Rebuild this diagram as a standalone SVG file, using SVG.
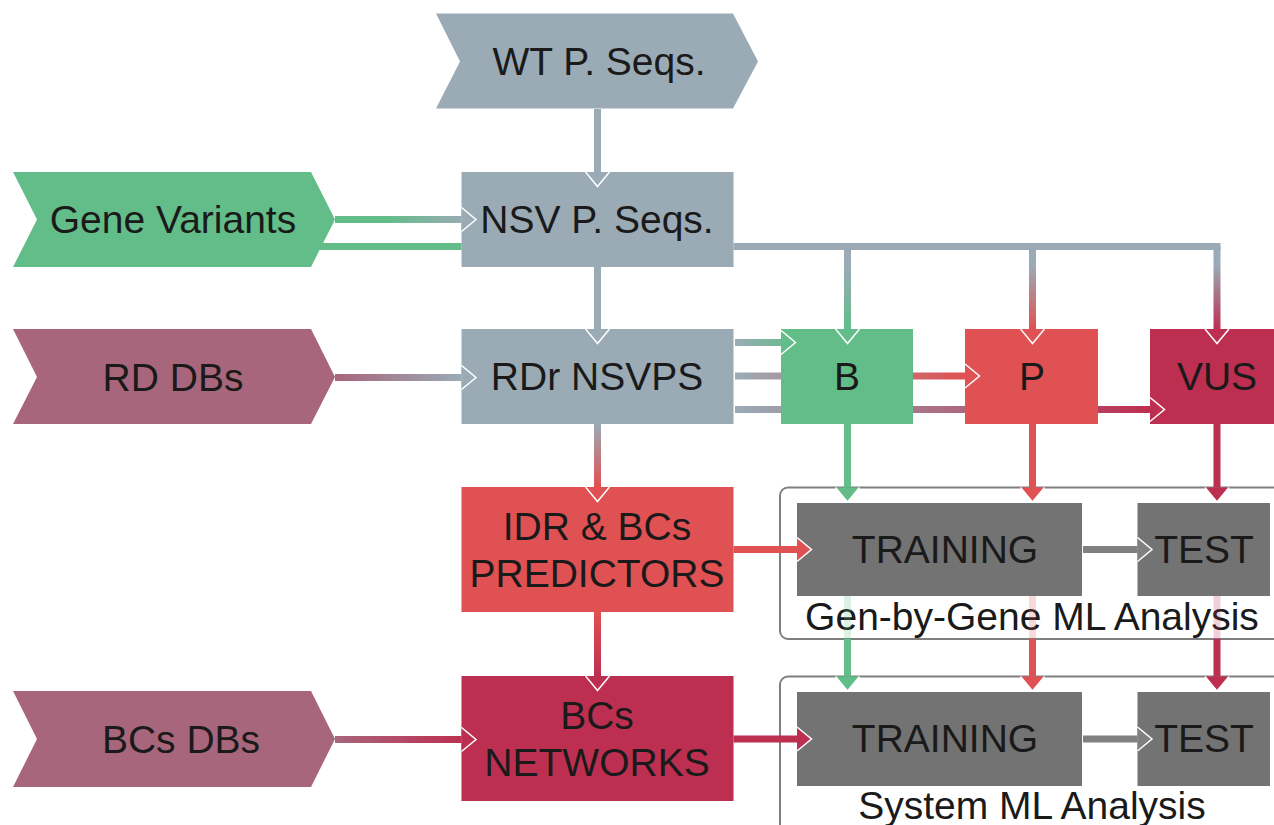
<svg xmlns="http://www.w3.org/2000/svg" width="1274" height="825" viewBox="0 0 1274 825">
<style>
  text { font-family: "Liberation Sans", Arial, sans-serif; font-size: 39px; fill: #1a1a1a; text-anchor: middle; }
  .grey { fill: #9aabb5; }
  .green { fill: #62bd89; }
  .red { fill: #e05153; }
  .crimson { fill: #bd2f51; }
  .mauve { fill: #a8667c; }
  .dark { fill: #737373; }
  .grp { fill: none; stroke: #7f7f7f; stroke-width: 2; }
  .ln { fill: none; stroke-width: 7; }
  .fade { stroke-opacity: 0.22; }
</style>
<defs>
  <marker id="mGrey" viewBox="-1 -1 17 26" refX="0" refY="12" markerWidth="17" markerHeight="26" markerUnits="userSpaceOnUse" orient="auto">
    <path d="M0,0 L14.5,12 L0,24" fill="#9aabb5" stroke="#fff" stroke-width="1.5"/>
  </marker>
  <marker id="mGreen" viewBox="-1 -1 17 26" refX="0" refY="12" markerWidth="17" markerHeight="26" markerUnits="userSpaceOnUse" orient="auto">
    <path d="M0,0 L14.5,12 L0,24" fill="#62bd89" stroke="#fff" stroke-width="1.5"/>
  </marker>
  <marker id="mRed" viewBox="-1 -1 17 26" refX="0" refY="12" markerWidth="17" markerHeight="26" markerUnits="userSpaceOnUse" orient="auto">
    <path d="M0,0 L14.5,12 L0,24" fill="#e05153" stroke="#fff" stroke-width="1.5"/>
  </marker>
  <marker id="mCrimson" viewBox="-1 -1 17 26" refX="0" refY="12" markerWidth="17" markerHeight="26" markerUnits="userSpaceOnUse" orient="auto">
    <path d="M0,0 L14.5,12 L0,24" fill="#bd2f51" stroke="#fff" stroke-width="1.5"/>
  </marker>
  <marker id="mDark" viewBox="-1 -1 17 26" refX="0" refY="12" markerWidth="17" markerHeight="26" markerUnits="userSpaceOnUse" orient="auto">
    <path d="M0,0 L14.5,12 L0,24" fill="#808080" stroke="#fff" stroke-width="1.5"/>
  </marker>
  <linearGradient id="gGV" gradientUnits="userSpaceOnUse" x1="335" y1="0" x2="462" y2="0">
    <stop offset="0.4" stop-color="#62bd89"/><stop offset="1" stop-color="#9aabb5"/>
  </linearGradient>
  <linearGradient id="gRD" gradientUnits="userSpaceOnUse" x1="335" y1="0" x2="462" y2="0">
    <stop offset="0" stop-color="#a8667c"/><stop offset="1" stop-color="#9aabb5"/>
  </linearGradient>
  <linearGradient id="gBC" gradientUnits="userSpaceOnUse" x1="335" y1="0" x2="462" y2="0">
    <stop offset="0" stop-color="#a8667c"/><stop offset="1" stop-color="#bd2f51"/>
  </linearGradient>
  <linearGradient id="gRB" gradientUnits="userSpaceOnUse" x1="735" y1="0" x2="795" y2="0">
    <stop offset="0" stop-color="#9aabb5"/><stop offset="1" stop-color="#62bd89"/>
  </linearGradient>
  <linearGradient id="gRP" gradientUnits="userSpaceOnUse" x1="735" y1="0" x2="965" y2="0">
    <stop offset="0" stop-color="#9aabb5"/><stop offset="1" stop-color="#e05153"/>
  </linearGradient>
  <linearGradient id="gRV" gradientUnits="userSpaceOnUse" x1="735" y1="0" x2="1150" y2="0">
    <stop offset="0" stop-color="#9aabb5"/><stop offset="1" stop-color="#bd2f51"/>
  </linearGradient>
  <linearGradient id="gDB" gradientUnits="userSpaceOnUse" x1="0" y1="250" x2="0" y2="329">
    <stop offset="0.2" stop-color="#9aabb5"/><stop offset="1" stop-color="#62bd89"/>
  </linearGradient>
  <linearGradient id="gDP" gradientUnits="userSpaceOnUse" x1="0" y1="250" x2="0" y2="329">
    <stop offset="0.2" stop-color="#9aabb5"/><stop offset="1" stop-color="#e05153"/>
  </linearGradient>
  <linearGradient id="gDV" gradientUnits="userSpaceOnUse" x1="0" y1="250" x2="0" y2="329">
    <stop offset="0.2" stop-color="#9aabb5"/><stop offset="1" stop-color="#bd2f51"/>
  </linearGradient>
  <linearGradient id="gV1" gradientUnits="userSpaceOnUse" x1="0" y1="424" x2="0" y2="487">
    <stop offset="0" stop-color="#9aabb5"/><stop offset="1" stop-color="#e05153"/>
  </linearGradient>
  <linearGradient id="gV2" gradientUnits="userSpaceOnUse" x1="0" y1="612" x2="0" y2="676">
    <stop offset="0" stop-color="#e05153"/><stop offset="1" stop-color="#bd2f51"/>
  </linearGradient>
</defs>

<g id="wt-seqs"><polygon class="grey" points="436,13.5 733,13.5 758,61.5 733,108.5 436,108.5 460,61.5"/><text x="599" y="75">WT P. Seqs.</text></g>
<g id="gene-variants"><polygon class="green" points="13,172 311,172 335,219.5 311,267 13,267 37,219.5"/><text x="173" y="233">Gene Variants</text></g>
<g id="rd-dbs"><polygon class="mauve" points="13,329 311,329 335,377 311,424 13,424 37,377"/><text x="173" y="391">RD DBs</text></g>
<g id="bcs-dbs"><polygon class="mauve" points="13,691 311,691 335,739 311,787 13,787 37,739"/><text x="181" y="753">BCs DBs</text></g>
<g id="nsv-seqs"><rect class="grey" x="461.5" y="172" width="272" height="95"/><text x="597" y="233">NSV P. Seqs.</text></g>
<g id="rdr-nsvps"><rect class="grey" x="461.5" y="329" width="272" height="95"/><text x="597" y="390">RDr NSVPS</text></g>
<g id="idr-predictors"><rect class="red" x="461.5" y="487" width="272" height="125"/><text x="597" y="540">IDR &amp; BCs</text><text x="597" y="587">PREDICTORS</text></g>
<g id="bcs-networks"><rect class="crimson" x="461.5" y="676" width="272" height="125"/><text x="597" y="729">BCs</text><text x="597" y="776">NETWORKS</text></g>
<g id="b"><rect class="green" x="781" y="329" width="132" height="95"/><text x="847" y="390">B</text></g>
<g id="p"><rect class="red" x="965" y="329" width="133" height="95"/><text x="1032" y="390">P</text></g>
<g id="vus"><rect class="crimson" x="1150" y="329" width="135" height="95"/><text x="1217" y="390">VUS</text></g>
<g id="gen-by-gene">
  <rect class="grp" x="780" y="487.5" width="530" height="151.5" rx="8"/>
  <text x="1032" y="630">Gen-by-Gene ML Analysis</text>
</g>
<g id="gbg-training"><rect class="dark" x="797" y="503" width="285" height="93"/><text x="945" y="563">TRAINING</text></g>
<g id="gbg-test"><rect class="dark" x="1137.5" y="503" width="132.5" height="93"/><text x="1204" y="563">TEST</text></g>
<g id="system-ml">
  <rect class="grp" x="780" y="676.5" width="530" height="170" rx="8"/>
  <text x="1032" y="819">System ML Analysis</text>
</g>
<g id="sys-training"><rect class="dark" x="797" y="692" width="285" height="94"/><text x="945" y="752">TRAINING</text></g>
<g id="sys-test"><rect class="dark" x="1137.5" y="692" width="132.5" height="94"/><text x="1204" y="752">TEST</text></g>

<g id="connectors">
  <path class="ln" d="M597.5,109 V172" stroke="#9aabb5" marker-end="url(#mGrey)"/>
  <path class="ln" d="M335,219.5 H461.5" stroke="url(#gGV)" marker-end="url(#mGrey)"/>
  <path class="ln" d="M318,246.5 H461.5" stroke="#62bd89"/>
  <path class="ln" d="M597.5,267 V329" stroke="#9aabb5" marker-end="url(#mGrey)"/>
  <path class="ln" d="M733.5,246.5 H1220.5" stroke="#9aabb5"/>
  <path class="ln" d="M847.5,246.5 V329" stroke="url(#gDB)" marker-end="url(#mGreen)"/>
  <path class="ln" d="M1032.5,246.5 V329" stroke="url(#gDP)" marker-end="url(#mRed)"/>
  <path class="ln" d="M1217,246.5 V329" stroke="url(#gDV)" marker-end="url(#mCrimson)"/>
  <path class="ln" d="M335,377.5 H461.5" stroke="url(#gRD)" marker-end="url(#mGrey)"/>
  <path class="ln" d="M735,342.5 H781" stroke="url(#gRB)" marker-end="url(#mGreen)"/>
  <path class="ln" d="M735,376 H781 M913,376 H965" stroke="url(#gRP)" marker-end="url(#mRed)"/>
  <path class="ln" d="M735,409.5 H781 M913,409.5 H965 M1098,409.5 H1150" stroke="url(#gRV)" marker-end="url(#mCrimson)"/>
  <path class="ln" d="M597.5,424 V487" stroke="url(#gV1)" marker-end="url(#mRed)"/>
  <path class="ln" d="M597.5,612 V676" stroke="url(#gV2)" marker-end="url(#mCrimson)"/>
  <path class="ln" d="M335,739.5 H461.5" stroke="url(#gBC)" marker-end="url(#mCrimson)"/>
  <path class="ln" d="M733.5,549.5 H797" stroke="#e05153" marker-end="url(#mRed)"/>
  <path class="ln" d="M733.5,739 H797" stroke="#bd2f51" marker-end="url(#mCrimson)"/>
  <path class="ln" d="M1083,549.5 H1137.5" stroke="#808080" marker-end="url(#mDark)"/>
  <path class="ln" d="M1083,739 H1137.5" stroke="#808080" marker-end="url(#mDark)"/>
  <path class="ln" d="M847.5,424 V487.5" stroke="#62bd89" marker-end="url(#mGreen)"/>
  <path class="ln fade" d="M847.5,596 V639" stroke="#62bd89"/>
  <path class="ln" d="M847.5,639 V676.5" stroke="#62bd89" marker-end="url(#mGreen)"/>
  <path class="ln" d="M1032.5,424 V487.5" stroke="#e05153" marker-end="url(#mRed)"/>
  <path class="ln fade" d="M1032.5,596 V639" stroke="#e05153"/>
  <path class="ln" d="M1032.5,639 V676.5" stroke="#e05153" marker-end="url(#mRed)"/>
  <path class="ln" d="M1217,424 V487.5" stroke="#bd2f51" marker-end="url(#mCrimson)"/>
  <path class="ln fade" d="M1217,596 V639" stroke="#bd2f51"/>
  <path class="ln" d="M1217,639 V676.5" stroke="#bd2f51" marker-end="url(#mCrimson)"/>
</g>
</svg>
